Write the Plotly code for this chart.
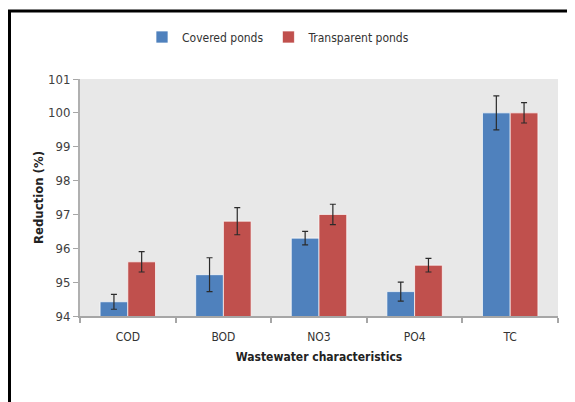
import plotly.graph_objects as go

categories = ["COD", "BOD", "NO3", "PO4", "TC"]
covered = [94.42, 95.22, 96.30, 94.72, 100.0]
covered_err = [0.22, 0.50, 0.20, 0.28, 0.50]
transparent = [95.60, 96.80, 97.00, 95.50, 100.0]
transparent_err = [0.30, 0.40, 0.30, 0.20, 0.30]
y_ticks = [94, 95, 96, 97, 98, 99, 100, 101]

FONT = "DejaVu Sans Condensed, Liberation Sans, Arial"

fig = go.Figure()
fig.add_trace(go.Bar(
    name="Covered ponds", x=categories, y=covered,
    marker=dict(color="#4f81bd", line=dict(color="rgba(255,255,255,0.7)", width=1)),
    error_y=dict(type="data", array=covered_err, visible=True, color="#2b2b2b", thickness=1.2, width=3),
))
fig.add_trace(go.Bar(
    name="Transparent ponds", x=categories, y=transparent,
    marker=dict(color="#c0504d", line=dict(color="rgba(255,255,255,0.7)", width=1)),
    error_y=dict(type="data", array=transparent_err, visible=True, color="#2b2b2b", thickness=1.2, width=3),
))

# page body has an 8px margin; work in page pixels and convert
OFF = 8
W, H = 575 - OFF, 402 - OFF
L, R, T, B = 80 - OFF, 575 - 558, 79 - OFF, 402 - 316
pw = W - L - R
ph = H - T - B

def px_x(px):
    return (px - OFF - L) / pw

def px_y(py):
    return (H - B - (py - OFF)) / ph

fig.update_layout(
    width=W, height=H,
    margin=dict(l=L, r=R, t=T, b=B),
    paper_bgcolor="white",
    plot_bgcolor="#e8e8e8",
    barmode="group",
    bargap=0.42,
    bargroupgap=0,
    font=dict(family=FONT, size=12, color="#404040"),
    showlegend=True,
    legend=dict(orientation="h", x=px_x(142), xanchor="left", y=px_y(37), yanchor="middle",
                font=dict(family=FONT, size=12, color="#333333"),
                traceorder="normal", bgcolor="rgba(0,0,0,0)"),
    xaxis=dict(
        type="category", showgrid=False, showline=True, linecolor="#a6a6a6", linewidth=2,
        ticks="outside", tickson="boundaries", ticklen=5, tickcolor="#a6a6a6", tickwidth=2,
        ticklabelstandoff=9,
        tickfont=dict(family=FONT, size=12, color="#333333"),
        title=dict(text="<b>Wastewater characteristics</b>", standoff=9,
                   font=dict(family=FONT, size=12, color="#222222")),
    ),
    yaxis=dict(
        range=[94, 101], tickvals=y_ticks, showgrid=False, zeroline=False,
        showline=True, linecolor="#b0b0b0", linewidth=2,
        ticks="outside", ticklen=5, tickcolor="#a6a6a6", tickwidth=1,
        tickfont=dict(family=FONT, size=13, color="#404040"),
        title=dict(text="<b>Reduction (%)</b>", standoff=2,
                   font=dict(family=FONT, size=13, color="#222222")),
    ),
    shapes=[
        dict(type="line", xref="paper", yref="paper",
             x0=px_x(9.5), x1=px_x(9.5), y0=px_y(420), y1=px_y(11),
             line=dict(color="black", width=3)),
        dict(type="line", xref="paper", yref="paper",
             x0=px_x(8), x1=px_x(580), y0=px_y(11), y1=px_y(11),
             line=dict(color="black", width=3)),
    ],
)

fig.write_html("out.html")
